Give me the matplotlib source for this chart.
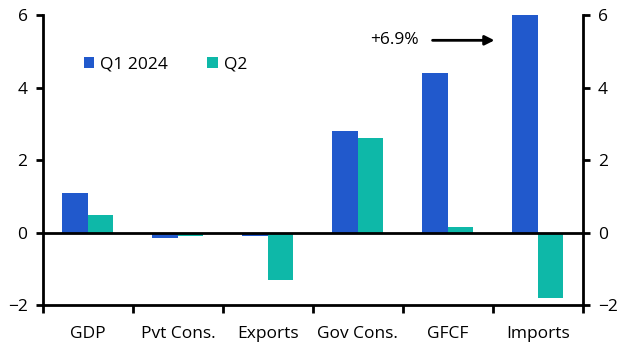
import numpy as np
import matplotlib.pyplot as plt

plt.rcParams["font.family"] = ["Open Sans", "DejaVu Sans"]

categories = ["GDP", "Pvt Cons.", "Exports", "Gov Cons.", "GFCF", "Imports"]
q1_2024 = [1.1, -0.15, -0.1, 2.8, 4.4, 6.9]
q2_2024 = [0.5, -0.1, -1.3, 2.6, 0.15, -1.8]

blue = "#2159CC"
teal = "#0EB8A8"
fs = 12.5

x = np.arange(len(categories))
w = 0.285

fig, ax = plt.subplots(figsize=(6.3, 3.55), dpi=100)
fig.subplots_adjust(left=0.068, right=0.925, top=0.958, bottom=0.14)

ax.bar(x - w/2, q1_2024, w, color=blue, label="Q1 2024")
ax.bar(x + w/2, q2_2024, w, color=teal, label="Q2")
ax.axhline(0, color="black", lw=2)

ax.set_xlim(-0.5, len(categories) - 0.5)
ax.set_ylim(-2, 6)
ax.set_yticks([-2, 0, 2, 4, 6])

ax.set_xticks(np.arange(len(categories) + 1) - 0.5)
ax.set_xticklabels([])
ax.set_xticks(x, minor=True)
ax.set_xticklabels(categories, minor=True)
ax.tick_params(axis="x", which="major", length=6, width=2, direction="out")
ax.tick_params(axis="x", which="minor", length=0, pad=15, labelsize=fs)
ax.tick_params(axis="y", length=5, width=2, direction="out", labelsize=fs,
               left=True, right=True, labelleft=True, labelright=True, pad=6)

for s in ["left", "right", "bottom"]:
    ax.spines[s].set_linewidth(2)
ax.spines["top"].set_visible(False)

ax.annotate("", xy=(4.55, 5.3), xytext=(3.8, 5.3),
            arrowprops=dict(arrowstyle="-|>", color="black", lw=2, mutation_scale=14))
ax.text(3.68, 5.3, "+6.9%", ha="right", va="center", fontsize=fs)

ax.legend(loc="upper left", bbox_to_anchor=(0.047, 0.91), ncol=2, frameon=False,
          fontsize=fs, handlelength=0.6, handleheight=0.6, handletextpad=0.35,
          columnspacing=2.25)

fig.savefig("out.png")
